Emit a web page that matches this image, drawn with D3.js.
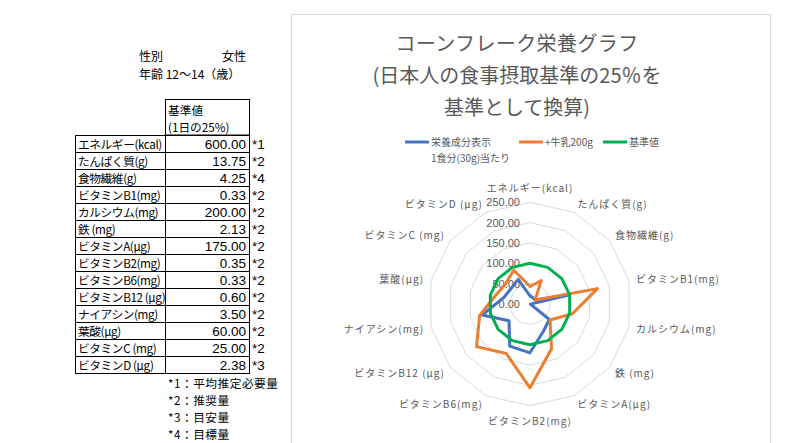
<!DOCTYPE html>
<html><head><meta charset="utf-8">
<script src="https://cdn.jsdelivr.net/npm/d3@7"></script>
<style>
html,body{margin:0;padding:0;background:#fff;}
svg text{font-family:"Noto Sans CJK JP","Noto Sans",sans-serif;}
svg text.num{font-family:"Liberation Sans","DejaVu Sans",sans-serif;}
</style></head>
<body><svg id="c" width="800" height="443"></svg>
<script>
// ---- data ----
const categories = ["エネルギー(kcal)","たんぱく質(g)","食物繊維(g)","ビタミンB1(mg)","カルシウム(mg)","鉄 (mg)","ビタミンA(μg)","ビタミンB2(mg)","ビタミンB6(mg)","ビタミンB12 (μg)","ナイアシン(mg)","葉酸(μg)","ビタミンC (mg)","ビタミンD (μg)"];
const cornflakes = [20,17,16,98,1,61,75,120,115,66,121,67,60,67];
const withMilk   = [43,64,16,170,107,63,122,206,135,168,127,88,78,92];
const standard   = [100,100,100,100,100,100,100,100,100,100,100,100,100,100];
const tickValues = [0,50,100,150,200,250];
const tickLabels = ["0.00","50.00","100.00","150.00","200.00","250.00"];
const seriesNames = [["栄養成分表示","1食分(30g)当たり"],["+牛乳200g"],["基準値"]];
const titleLines = ["コーンフレーク栄養グラフ","(日本人の食事摂取基準の25％を","基準として換算)"];

const tableNames  = ["エネルギー(kcal)","たんぱく質(g)","食物繊維(g)","ビタミンB1(mg)","カルシウム(mg)","鉄 (mg)","ビタミンA(μg)","ビタミンB2(mg)","ビタミンB6(mg)","ビタミンB12 (μg)","ナイアシン(mg)","葉酸(μg)","ビタミンC (mg)","ビタミンD (μg)"];
const tableValues = ["600.00","13.75","4.25","0.33","200.00","2.13","175.00","0.35","0.33","0.60","3.50","60.00","25.00","2.38"];
const tableNotes  = ["*1","*2","*4","*2","*2","*2","*2","*2","*2","*2","*2","*2","*2","*3"];
const footnotes   = ["*1：平均推定必要量","*2：推奨量","*3：目安量","*4：目標量"];

const svg = d3.select("#c");

// ---- left side: profile + table ----
const L = svg.append("g").attr("font-size",11.7).attr("fill","#000");
L.append("text").attr("x",139).attr("y",60.5).attr("font-size",12).text("性別");
L.append("text").attr("x",222).attr("y",60.5).attr("font-size",12).text("女性");
L.append("text").attr("x",139).attr("y",78.5).attr("font-size",12).text("年齢 12～14（歳）");

const tx0=75, tx1=165, tx2=249, ty0=135, rowH=17;
svg.append("rect").attr("x",tx1+0.5).attr("y",99.5).attr("width",tx2-tx1).attr("height",ty0-99.5)
  .attr("fill","none").attr("stroke","#000").attr("stroke-width",1);
L.append("text").attr("x",tx1+3).attr("y",114.5).text("基準値");
L.append("text").attr("x",tx1+3).attr("y",131.5).text("(1日の25%)");
const rowsG = svg.append("g");
tableNames.forEach((n,i)=>{
  const y=ty0+i*rowH;
  rowsG.append("rect").attr("x",tx0+0.5).attr("y",y+0.5).attr("width",tx1-tx0).attr("height",rowH)
    .attr("fill","none").attr("stroke","#000").attr("stroke-width",1);
  rowsG.append("rect").attr("x",tx1+0.5).attr("y",y+0.5).attr("width",tx2-tx1).attr("height",rowH)
    .attr("fill","none").attr("stroke","#000").attr("stroke-width",1);
  rowsG.append("text").attr("x",tx0+3).attr("y",y+13.5).attr("font-size",11.7).attr("letter-spacing",-0.4).text(n);
  rowsG.append("text").attr("class","num").attr("x",tx2-3).attr("y",y+13.5).attr("font-size",13.5).attr("text-anchor","end").text(tableValues[i]);
  rowsG.append("text").attr("class","num").attr("x",tx2+3).attr("y",y+13.5).attr("font-size",13.5).text(tableNotes[i]);
});
footnotes.forEach((f,i)=>{
  L.append("text").attr("x",168).attr("y",388+i*17).attr("letter-spacing",0.5).text(f);
});

// ---- chart area ----
svg.append("rect").attr("x",291.5).attr("y",14.5).attr("width",479).attr("height",440)
  .attr("fill","#fff").attr("stroke","#d9d9d9").attr("stroke-width",1);

const T = svg.append("g").attr("fill","#595959").attr("font-size",20).attr("text-anchor","middle");
titleLines.forEach((t,i)=>T.append("text").attr("x",517).attr("y",51+i*32).attr("letter-spacing",i===0?0.4:0).text(t));

// legend
const colors = ["#4472C4","#ED7D31","#00B050"];
const legX = [405,519,603];
const Lg = svg.append("g").attr("font-size",10).attr("fill","#595959");
seriesNames.forEach((s,i)=>{
  Lg.append("line").attr("x1",legX[i]).attr("x2",legX[i]+24).attr("y1",142).attr("y2",142)
    .attr("stroke",colors[i]).attr("stroke-width",3);
  s.forEach((line,j)=>Lg.append("text").attr("x",legX[i]+26).attr("y",146+j*16).text(line));
});

// radar
const cx=530, cy=304;
const r = d3.scaleLinear().domain([0,250]).range([0,101.7]);
const n = categories.length;
const ang = d3.scaleLinear().domain([0,n]).range([0,2*Math.PI]);
const pt = (i,v)=>[cx+r(v)*Math.sin(ang(i)), cy-r(v)*Math.cos(ang(i))];

const grid = svg.append("g");
tickValues.slice(1).forEach(tv=>{
  grid.append("path").attr("d", d3.line()(d3.range(n).map(i=>pt(i,tv)))+"Z")
    .attr("fill","none").attr("stroke","#d9d9d9").attr("stroke-width",1);
});
const tk = svg.append("g").attr("font-size",11).attr("fill","#595959").attr("text-anchor","end");
tickValues.forEach((tv,i)=>{
  tk.append("text").attr("class","num").attr("x",cx-10).attr("y",cy-r(tv)+4).text(tickLabels[i]);
});

// category labels
const cl = svg.append("g").attr("font-size",10).attr("fill","#595959");
categories.forEach((c,i)=>{
  const a=ang(i), s=Math.sin(a), co=Math.cos(a);
  const R=r(250)+7;
  let x=cx+R*s, y=cy-R*co+4;
  let anchor = s>0.1?"start":(s<-0.1?"end":"middle");
  if(anchor==="middle"){ y += co>0 ? -7 : 8; }
  else { y += -co*2; }
  cl.append("text").attr("x",x).attr("y",y).attr("text-anchor",anchor).attr("letter-spacing",1).text(c);
});

// series
const line = d3.line().curve(d3.curveLinearClosed);
[cornflakes, withMilk, standard].forEach((vals,k)=>{
  svg.append("path").attr("d", line(vals.map((v,i)=>pt(i,v))))
    .attr("fill","none").attr("stroke",colors[k]).attr("stroke-width",3).attr("stroke-linejoin","round");
});
</script></body></html>
